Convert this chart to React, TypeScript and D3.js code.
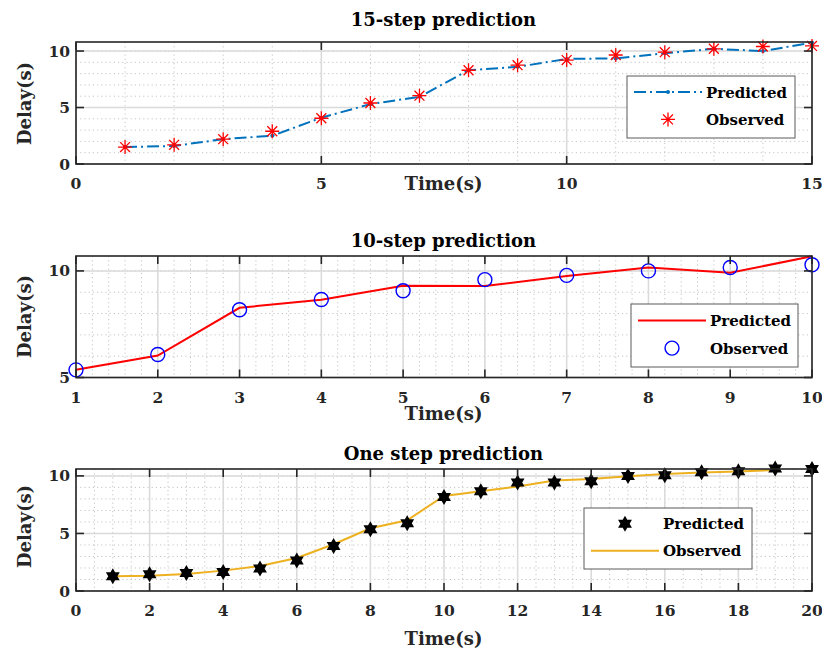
import React from 'react'
import * as d3 from 'd3'

// ---- data ----
const steps15 = d3.range(1, 16)
const pred15 = [1.5, 1.6, 2.2, 2.5, 4.1, 5.3, 5.95, 8.3, 8.6, 9.3, 9.35, 9.8, 10.2, 10.0, 10.75]
const obs15 = [1.5, 1.7, 2.2, 2.9, 4.05, 5.4, 6.05, 8.3, 8.75, 9.2, 9.65, 9.9, 10.2, 10.4, 10.45]

const steps10 = d3.range(1, 11)
const pred10 = [5.36, 6.03, 8.27, 8.65, 9.3, 9.29, 9.76, 10.16, 9.91, 10.69]
const obs10 = [5.36, 6.08, 8.18, 8.66, 9.07, 9.59, 9.79, 10.0, 10.16, 10.29]

const steps1 = d3.range(1, 21)
const pred1 = [1.28, 1.45, 1.57, 1.65, 1.95, 2.64, 3.91, 5.36, 5.89, 8.17, 8.67, 9.42, 9.42, 9.54, 10.0, 10.06, 10.32, 10.41, 10.64, 10.6]
const obs1 = [1.28, 1.33, 1.48, 1.77, 2.17, 2.87, 4.06, 5.45, 6.15, 8.26, 8.67, 9.07, 9.6, 9.74, 9.97, 10.17, 10.29, 10.38, 10.52]

const xTicks15 = [0, 5, 10, 15]
const xTicks10 = d3.range(1, 11)
const xTicks1 = d3.range(0, 21, 2)

const FONT = '"DejaVu Serif", serif'
const INK = '#262626'
const L = 76, R = 812

type Marker = 'asterisk' | 'circle' | 'hexagram' | 'dot'

function markerPath(kind: Marker, r: number) {
  if (kind === 'asterisk') {
    const d = r * 0.707
    return `M${-r},0H${r}M0,${-r}V${r}M${-d},${-d}L${d},${d}M${-d},${d}L${d},${-d}`
  }
  if (kind === 'hexagram') {
    const pts: string[] = []
    for (let i = 0; i < 12; i++) {
      const a = -Math.PI / 2 + (i * Math.PI) / 6
      const rr = i % 2 === 0 ? r : r / Math.sqrt(3)
      pts.push(`${rr * Math.cos(a)},${rr * Math.sin(a)}`)
    }
    return 'M' + pts.join('L') + 'Z'
  }
  return ''
}

function Mark({ kind, x, y }: { kind: Marker; x: number; y: number }) {
  if (kind === 'circle') return <circle cx={x} cy={y} r={7} fill="none" stroke="#0000ff" strokeWidth={1.4} />
  if (kind === 'dot') return <circle cx={x} cy={y} r={2} fill="#0072bd" />
  if (kind === 'asterisk') return <path transform={`translate(${x},${y})`} d={markerPath('asterisk', 7)} stroke="#ff0000" strokeWidth={1.3} fill="none" />
  return <path transform={`translate(${x},${y})`} d={markerPath('hexagram', 8)} fill="#000" />
}

interface PanelProps {
  title: string; titleY: number
  top: number; bottom: number
  xDomain: [number, number]; yDomain: [number, number]
  xTicks: number[]; yTicks: number[]
  xMinor: number; yMinor: number
  xs: number[]
  lineVals: number[]; lineXs: number[]; lineColor: string; dash?: string; lineDots?: boolean
  markVals: number[]; markKind: Marker
  legend: { x0: number; x1: number; y0: number; y1: number; lineFirst: boolean }
  xLabelY: number; yLabelY: number
}

function Panel(p: PanelProps) {
  const x = d3.scaleLinear().domain(p.xDomain).range([L, R])
  const y = d3.scaleLinear().domain(p.yDomain).range([p.bottom, p.top])
  const xMinor = d3.range(p.xDomain[0], p.xDomain[1] + 1e-9, p.xMinor)
  const yMinor = d3.range(Math.ceil(p.yDomain[0]), p.yDomain[1] + 1e-9, p.yMinor)
  const line = d3.line<number>().x((_, i) => x(p.lineXs[i])).y(d => y(d))
  const lg = p.legend
  const rowA = lg.y0 + (lg.y1 - lg.y0) * 0.26
  const rowB = lg.y0 + (lg.y1 - lg.y0) * 0.7
  const lineRow = lg.lineFirst ? rowA : rowB
  const markRow = lg.lineFirst ? rowB : rowA
  const sx0 = lg.x0 + 7, sx1 = lg.x0 + 75
  const tx = lg.x0 + 79
  return (
    <g>
      <rect x={L} y={p.top} width={R - L} height={p.bottom - p.top} fill="#fff" />
      {xMinor.map((v, i) => <line key={'xm' + i} x1={x(v)} x2={x(v)} y1={p.top} y2={p.bottom} stroke="#c4c4c4" strokeDasharray="1.2,3" />)}
      {yMinor.map((v, i) => <line key={'ym' + i} y1={y(v)} y2={y(v)} x1={L} x2={R} stroke="#c4c4c4" strokeDasharray="1.2,3" />)}
      {p.xTicks.map(v => <line key={'xg' + v} x1={x(v)} x2={x(v)} y1={p.top} y2={p.bottom} stroke="#dadada" strokeWidth={1.5} />)}
      {p.yTicks.map(v => <line key={'yg' + v} y1={y(v)} y2={y(v)} x1={L} x2={R} stroke="#dadada" strokeWidth={1.5} />)}
      <path d={line(p.lineVals) || ''} fill="none" stroke={p.lineColor} strokeWidth={2} strokeDasharray={p.dash} />
      {p.lineDots && p.lineVals.map((v, i) => <Mark key={'d' + i} kind="dot" x={x(p.lineXs[i])} y={y(v)} />)}
      {p.markVals.map((v, i) => <Mark key={'m' + i} kind={p.markKind} x={x(p.xs[i])} y={y(v)} />)}
      {/* ticks, inward on all four sides */}
      {p.xTicks.map(v => (
        <g key={'xt' + v}>
          <line x1={x(v)} x2={x(v)} y1={p.bottom} y2={p.bottom - 8} stroke={INK} strokeWidth={1.6} />
          <line x1={x(v)} x2={x(v)} y1={p.top} y2={p.top + 8} stroke={INK} strokeWidth={1.6} />
          <text x={x(v)} y={p.bottom + 25} textAnchor="middle" fontSize={15.5} fontWeight="bold" fill={INK}>{v}</text>
        </g>
      ))}
      {p.yTicks.map(v => (
        <g key={'yt' + v}>
          <line x1={L} x2={L + 8} y1={y(v)} y2={y(v)} stroke={INK} strokeWidth={1.6} />
          <line x1={R} x2={R - 8} y1={y(v)} y2={y(v)} stroke={INK} strokeWidth={1.6} />
          <text x={70} y={y(v) + 5.5} textAnchor="end" fontSize={15.5} fontWeight="bold" fill={INK}>{v}</text>
        </g>
      ))}
      <rect x={L} y={p.top} width={R - L} height={p.bottom - p.top} fill="none" stroke={INK} strokeWidth={1.6} />
      {/* legend */}
      <rect x={lg.x0} y={lg.y0} width={lg.x1 - lg.x0} height={lg.y1 - lg.y0} fill="#fff" stroke="#5a5a5a" strokeWidth={1} />
      <line x1={sx0} x2={sx1} y1={lineRow} y2={lineRow} stroke={p.lineColor} strokeWidth={2} strokeDasharray={p.dash} />
      {p.lineDots && <Mark kind="dot" x={(sx0 + sx1) / 2} y={lineRow} />}
      <Mark kind={p.markKind} x={(sx0 + sx1) / 2} y={markRow} />
      <text x={tx} y={rowA + 5.5} fontSize={15} fontWeight="bold" fill="#000">Predicted</text>
      <text x={tx} y={rowB + 5.5} fontSize={15} fontWeight="bold" fill="#000">Observed</text>
      {/* labels */}
      <text x={443.5} y={p.titleY} textAnchor="middle" fontSize={18} fontWeight="bold" fill="#000">{p.title}</text>
      <text x={443.5} y={p.xLabelY} textAnchor="middle" fontSize={18} fontWeight="bold" fill={INK}>Time(s)</text>
      <text transform={`translate(31,${p.yLabelY}) rotate(-90)`} textAnchor="middle" fontSize={18} fontWeight="bold" fill={INK}>Delay(s)</text>
    </g>
  )
}

export default function App() {
  return (
    <svg width={822} height={651} style={{ position: 'absolute', left: 0, top: 0, background: '#fff', fontFamily: FONT }}>
      <Panel title="15-step prediction" titleY={26} top={42} bottom={164}
        xDomain={[0, 15]} yDomain={[0, 10.8]} xTicks={xTicks15} yTicks={[0, 5, 10]} xMinor={1} yMinor={1}
        xs={steps15} lineXs={steps15} lineVals={pred15} lineColor="#0072bd" dash="12,4,2,4" lineDots
        markVals={obs15} markKind="asterisk"
        legend={{ x0: 627, x1: 795, y0: 76, y1: 138, lineFirst: true }}
        xLabelY={190} yLabelY={103.5} />
      <Panel title="10-step prediction" titleY={246.5} top={256} bottom={377.5}
        xDomain={[1, 10]} yDomain={[5, 10.7]} xTicks={xTicks10} yTicks={[5, 10]} xMinor={0.2} yMinor={1}
        xs={steps10} lineXs={steps10} lineVals={pred10} lineColor="#ff0000"
        markVals={obs10} markKind="circle"
        legend={{ x0: 631, x1: 798, y0: 304, y1: 367, lineFirst: true }}
        xLabelY={420} yLabelY={316.5} />
      <Panel title="One step prediction" titleY={460} top={469} bottom={591}
        xDomain={[0, 20]} yDomain={[0, 10.6]} xTicks={xTicks1} yTicks={[0, 5, 10]} xMinor={0.5} yMinor={1}
        xs={steps1} lineXs={steps1.slice(0, obs1.length)} lineVals={obs1} lineColor="#edb120"
        markVals={pred1} markKind="hexagram"
        legend={{ x0: 584, x1: 752, y0: 508, y1: 569, lineFirst: false }}
        xLabelY={645} yLabelY={526.5} />
    </svg>
  )
}
